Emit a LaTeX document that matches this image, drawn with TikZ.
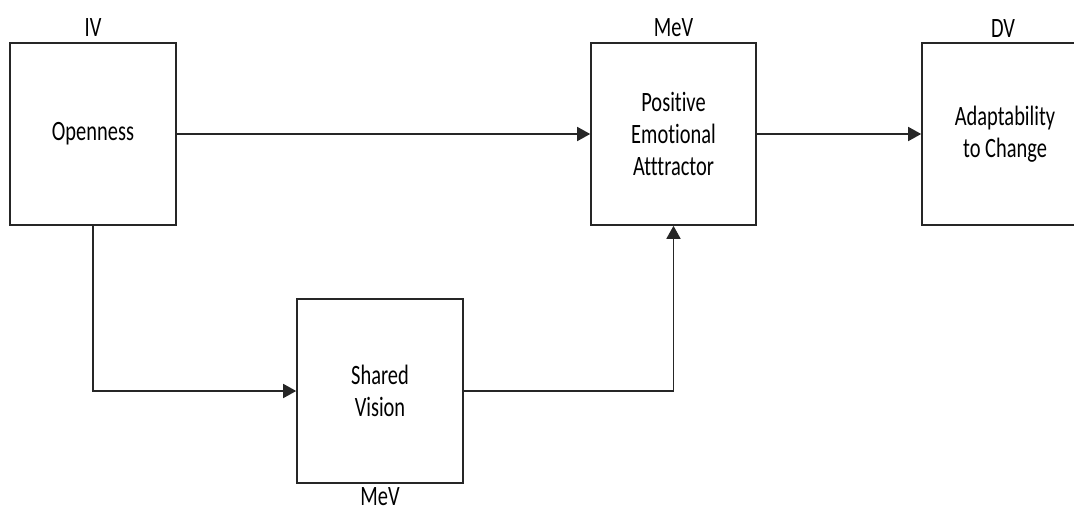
\documentclass[tikz,border=0pt]{standalone}
\usepackage{fontspec}
\setmainfont{Carlito}[FakeStretch=0.73, Ligatures={NoCommon}]
\usetikzlibrary{arrows.meta}
\begin{document}
\begin{tikzpicture}[x=1pt,y=-1pt,
  box/.style={draw=black!85, line width=1.6pt, align=center, inner sep=0pt,
    minimum width=166pt, minimum height=182pt,
    font=\fontsize{28}{32}\selectfont},
  tag/.style={font=\fontsize{28}{32}\selectfont, inner sep=0pt, anchor=base},
  link/.style={draw=black!85, line width=1.6pt,
    -{Triangle[length=13pt,width=14pt]}}]
\useasboundingbox (0,0) rectangle (1074,512);
\clip (0,0) rectangle (1074,512);
% variable boxes
\node[box] (open) at (93,134) {Openness};
\node[box, minimum width=165pt] (pea) at (673.5,134) {Positive\\Emotional\\Atttractor};
\node[box] (adapt) at (1005,134) {Adaptability\\to Change};
\node[box, minimum height=184pt] (sv) at (380,391) {Shared\\Vision};
% role labels
\node[tag] (ivl) at (93,36) {IV};
\node[tag] (meva) at (673.5,36) {MeV};
\node[tag] (dvl) at (1003,37) {DV};
\node[tag] (mevb) at (380,505) {MeV};
% paths
\draw[link] (open.east) -- (pea.west);
\draw[link] (pea.east) -- (adapt.west);
\draw[link] (open.south) |- (sv.west);
\draw[link] (sv.east) -| (pea.south);
\end{tikzpicture}
\end{document}
